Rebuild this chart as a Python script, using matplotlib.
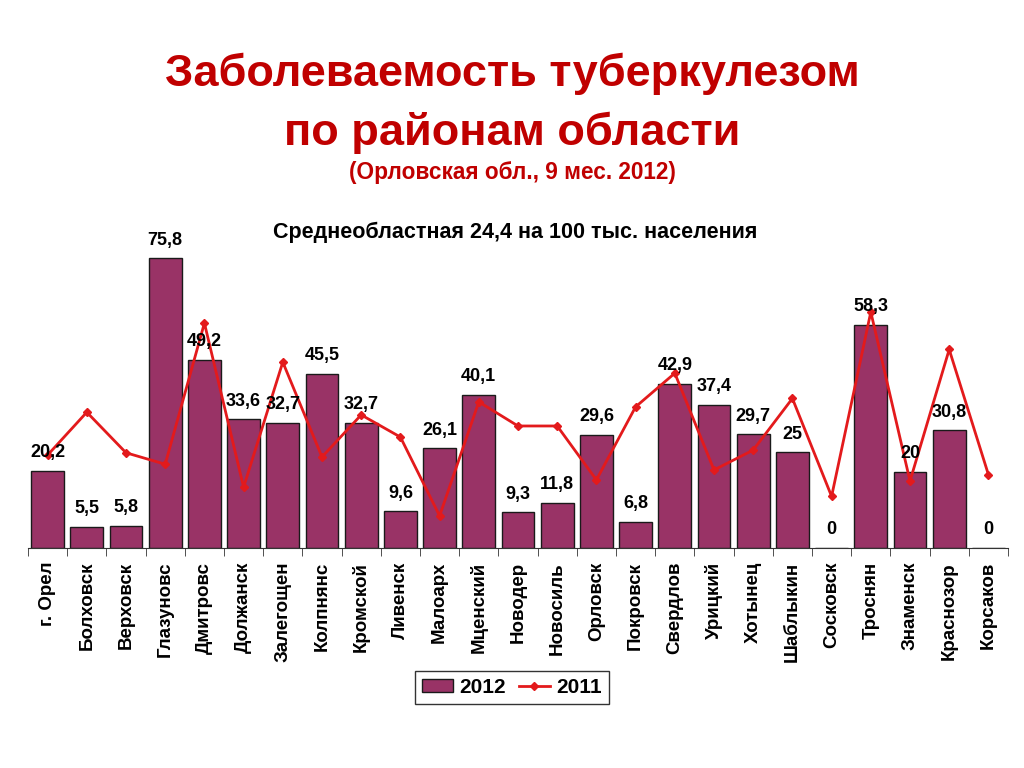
import matplotlib

matplotlib.use("Agg")
import matplotlib.pyplot as plt
import numpy as np

plt.rcParams["font.family"] = ["Liberation Sans", "DejaVu Sans"]
plt.rcParams["font.weight"] = "bold"

districts = [
    "г. Орел", "Болховск", "Верховск", "Глазуновс", "Дмитровс", "Должанск",
    "Залегощен", "Колпнянс", "Кромской", "Ливенск", "Малоарх", "Мценский",
    "Новодер", "Новосиль", "Орловск", "Покровск", "Свердлов", "Урицкий",
    "Хотынец", "Шаблыкин", "Сосковск", "Троснян", "Знаменск", "Краснозор",
    "Корсаков",
]
rate_2012 = [20.2, 5.5, 5.8, 75.8, 49.2, 33.6, 32.7, 45.5, 32.7, 9.6, 26.1, 40.1,
             9.3, 11.8, 29.6, 6.8, 42.9, 37.4, 29.7, 25, 0, 58.3, 20, 30.8, 0]
rate_2011 = [24.3, 35.5, 24.9, 21.9, 58.8, 15.9, 48.6, 23.8, 34.8, 29.0, 8.4, 38.2,
             31.9, 31.9, 17.8, 36.9, 45.7, 20.4, 25.6, 39.1, 13.5, 61.7, 17.5, 51.9, 19.2]

BAR_COLOR = "#993366"
LINE_COLOR = "#E31A1C"
TITLE_COLOR = "#C00000"

fig = plt.figure(figsize=(10.24, 7.68), dpi=100)
ax = fig.add_axes([28 / 1024, 220 / 768, 980 / 1024, 306 / 768])

x = np.arange(len(districts))
bars = ax.bar(x, rate_2012, width=0.84, color=BAR_COLOR, edgecolor="#1a1a1a",
              linewidth=1.0, zorder=2)
line, = ax.plot(x, rate_2011, color=LINE_COLOR, linewidth=2, marker="D",
                markersize=4, zorder=3)

for xi, v in zip(x, rate_2012):
    txt = f"{v:g}".replace(".", ",")
    ax.text(xi, v + 2.5, txt, ha="center", va="bottom", fontsize=13,
            fontweight="bold", zorder=4)

ax.set_xlim(-0.5, len(districts) - 0.5)
ax.set_ylim(0, 80)
ax.set_yticks([])
for side in ["left", "right", "top"]:
    ax.spines[side].set_visible(False)
ax.spines["bottom"].set_color("#333333")
ax.set_xticks(np.arange(len(districts) + 1) - 0.5, minor=True)
ax.tick_params(axis="x", which="minor", length=6, color="#333333")
ax.set_xticks(x)
ax.set_xticklabels(districts, rotation=90, fontsize=13.5, fontweight="bold")
ax.tick_params(axis="x", which="major", length=0, pad=10)

fig.text(0.5, 0.904, "Заболеваемость туберкулезом", ha="center", va="center",
         fontsize=32.5, fontweight="bold", color=TITLE_COLOR)
fig.text(0.5, 0.827, "по районам области", ha="center", va="center",
         fontsize=32.5, fontweight="bold", color=TITLE_COLOR)
fig.text(0.5, 0.776, "(Орловская обл., 9 мес. 2012)", ha="center", va="center",
         fontsize=16.3, fontweight="bold", color=TITLE_COLOR)
fig.text(0.503, 0.697, "Среднеобластная 24,4 на 100 тыс. населения", ha="center",
         va="center", fontsize=15.5, fontweight="bold", color="black")

leg = fig.legend([bars, line], ["2012", "2011"], loc="center",
                 bbox_to_anchor=(0.5, 0.105), ncol=2, fontsize=15,
                 frameon=True, fancybox=False, edgecolor="black",
                 handlelength=1.5, handleheight=0.6, columnspacing=0.6,
                 handletextpad=0.3, borderpad=0.35)
leg.get_frame().set_linewidth(1.0)

fig.savefig("out.png", dpi=100)
